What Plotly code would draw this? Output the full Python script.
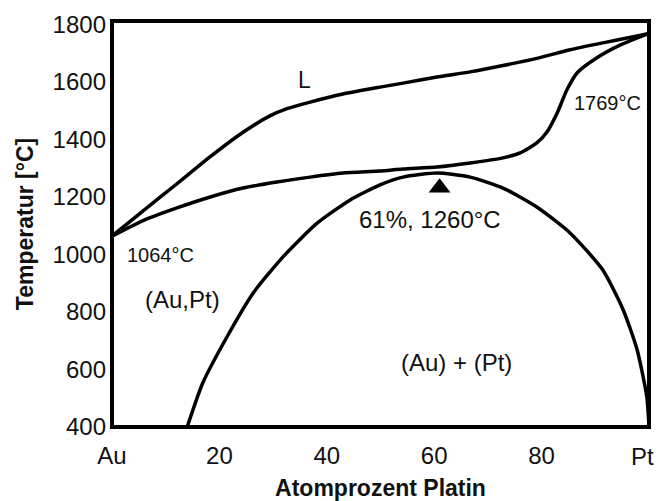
import plotly.graph_objects as go

# Au-Pt phase diagram (schematic), composition in atom-% Pt
T_MELT_AU = 1064
T_MELT_PT = 1769
CRIT_X = 61
CRIT_T = 1260

liquidus_x = [0, 5.8, 12.1, 18.3, 24.4, 29.4, 32.6, 36.9, 43.0, 49.9, 54.2, 60.5,
              66.7, 72.8, 79.1, 85.3, 91.4, 97.8, 100]
liquidus_t = [T_MELT_AU, 1152, 1246, 1340, 1425, 1482, 1507, 1530, 1558, 1582, 1596, 1617,
              1635, 1657, 1682, 1712, 1736, 1760, T_MELT_PT]

solidus_x = [0, 5.8, 12.1, 18.3, 24.4, 30.7, 36.9, 43.0, 49.9, 54.2, 60.5, 66.7,
             72.8, 76.0, 79.1, 81.0, 82.9, 84.7, 86.6, 90.3, 94.6, 100]
solidus_t = [T_MELT_AU, 1118, 1162, 1200, 1231, 1252, 1269, 1283, 1290, 1297, 1304, 1318,
             1336, 1353, 1388, 1426, 1492, 1572, 1631, 1684, 1728, T_MELT_PT]

solvus_x = [14.0, 16.9, 21.4, 26.3, 31.8, 38.2, 44.3, 49.9, 54.2, 60.5, 66.7, 72.8,
            79.1, 85.3, 91.4, 95.2, 97.8, 99.6, 100]
solvus_t = [400, 553, 713, 866, 991, 1109, 1189, 1242, 1269, 1283, 1269, 1231,
            1165, 1075, 946, 807, 668, 504, 400]

x_ticks = [0, 20, 40, 60, 80]
x_ticktext = ["Au", "20", "40", "60", "80"]
x_end_label = "Pt"          # pure platinum, x = 100
y_ticks = [400, 600, 800, 1000, 1200, 1400, 1600, 1800]

FONT = "Arial, Liberation Sans, sans-serif"
INK = "#111111"

fig = go.Figure()
for xs, ts in [(liquidus_x, liquidus_t), (solidus_x, solidus_t), (solvus_x, solvus_t)]:
    fig.add_trace(go.Scatter(
        x=xs, y=ts, mode="lines",
        line=dict(color="black", width=3.5, shape="spline", smoothing=0.6),
        hoverinfo="skip", showlegend=False,
    ))

# pointer to the critical point of the miscibility gap
fig.add_trace(go.Scatter(
    x=[CRIT_X], y=[CRIT_T], mode="markers",
    marker=dict(symbol="triangle-up", size=19, color="black", standoff=8),
    hoverinfo="skip", showlegend=False,
))

labels = [
    ("L", 35.9, 1607, 23),
    (f"{T_MELT_AU}°C", 9.1, 998, 20),
    ("(Au,Pt)", 13.2, 845, 24),
    (f"{CRIT_X}%, {CRIT_T}°C", 59.2, 1123, 24),
    ("(Au) + (Pt)", 64.1, 626, 24),
    (f"{T_MELT_PT}°C", 92.2, 1527, 20),
]
for text, x, y, size in labels:
    fig.add_annotation(x=x, y=y, text=text, showarrow=False,
                       font=dict(family=FONT, size=size, color=INK),
                       xanchor="center", yanchor="middle")

# end label of the composition axis, nudged left so it stays on the page
fig.add_annotation(x=100, xref="x", y=0, yref="paper", text=x_end_label,
                   showarrow=False, xanchor="center", yanchor="middle",
                   xshift=-7, yshift=-29,
                   font=dict(family=FONT, size=24, color=INK))

fig.add_shape(type="rect", xref="paper", yref="paper", x0=0, x1=1, y0=0, y1=1,
              line=dict(color="black", width=4), layer="above")

fig.update_layout(
    width=658, height=501,
    margin=dict(l=112, r=9, t=21, b=74, autoexpand=False),
    paper_bgcolor="white", plot_bgcolor="white",
    font=dict(family=FONT, color=INK),
    xaxis=dict(
        range=[0, 100], tickvals=x_ticks, ticktext=x_ticktext,
        showgrid=False, zeroline=False, showline=False, ticks="",
        automargin=False, ticklabelstandoff=12,
        tickfont=dict(size=24, color=INK),
        title=dict(text="<b>Atomprozent Platin</b>", font=dict(size=23, color=INK), standoff=12),
    ),
    yaxis=dict(
        range=[400, 1812], tickvals=y_ticks,
        showgrid=False, zeroline=False, showline=False, ticks="",
        automargin=False, ticklabelstandoff=5,
        tickfont=dict(size=24, color=INK),
        title=dict(text="<b>Temperatur [°C]</b>", font=dict(size=23, color=INK), standoff=12),
    ),
)

fig.write_html("out.html")
